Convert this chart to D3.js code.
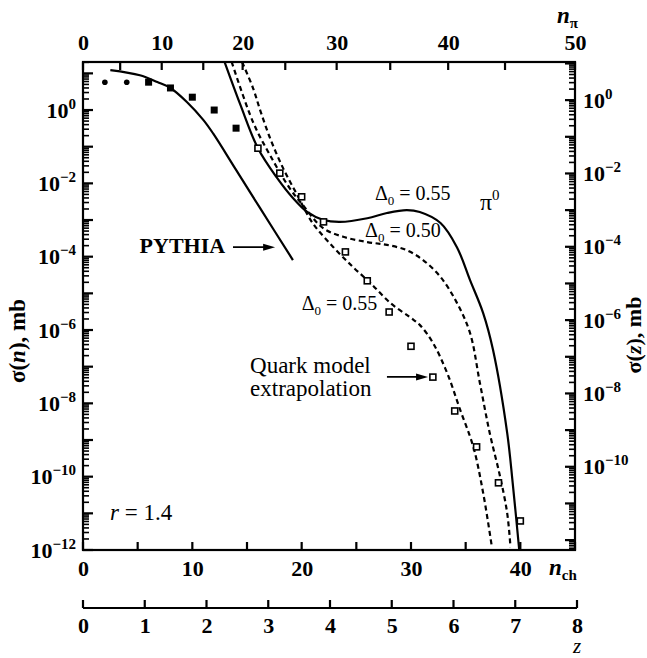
<!DOCTYPE html>
<html>
<head>
<meta charset="utf-8">
<script src="https://cdn.jsdelivr.net/npm/d3@7"></script>
<style>
  body { margin: 0; background: #fff; }
  svg { display: block; }
  text { font-family: "Liberation Serif", "Times New Roman", serif; fill: #000; }
</style>
</head>
<body>
<svg id="chart" width="647" height="658"></svg>
<script>
// ---- axis ticks ----
const nchTicks = [0, 5, 10, 15, 20, 25, 30, 35, 40, 45];
const nchLabels = [0, 10, 20, 30, 40];
const npiTicks = [0, 5, 10, 15, 20, 25, 30, 35, 40, 45, 50];
// where each n_pi tick sits on the n_ch scale (top axis is not linear)
const npiAtNch = [0, 3.4, 7.2, 11.0, 14.6, 18.5, 23.2, 28.1, 33.4, 38.6, 45];
const npiLabels = [0, 10, 20, 30, 40, 50];
const zTicks = [0, 1, 2, 3, 4, 5, 6, 7, 8];
const leftExp = [0, -2, -4, -6, -8, -10, -12];
const rightExp = [0, -2, -4, -6, -8, -10];

// ---- data points ----
const circleN = [2, 4];
const circleSigma = [5.75, 5.75];
const filledN = [6, 8, 10, 12, 14];
const filledSigma = [5.75, 4.0, 2.24, 1.0, 0.32];
const openN = [16, 18, 20, 22, 24, 26, 28, 30, 32, 34, 36, 38, 40];
const openSigma = [0.091, 0.019, 4.3e-3, 8.9e-4, 1.35e-4, 2.2e-5, 3.1e-6, 3.6e-7, 5.2e-8, 6.2e-9, 6.5e-10, 6.8e-11, 6.2e-12];

// ---- curves ----
const pythiaN = [2.5, 5.2, 6.8, 8.0, 9.5, 11.0, 11.9, 13.9, 16.2, 19.2];
const pythiaSigma = [12.3, 8.9, 5.8, 4.0, 1.66, 0.54, 0.23, 0.026, 2.1e-3, 8.1e-5];

const pi55N = [12.9, 14.4, 16.0, 17.75, 19.2, 20.5, 22.0, 23.5, 26.0, 27.8, 29.6, 30.8, 32.7, 34.2, 35.4, 36.6, 37.5, 38.8, 39.3, 39.9];
const pi55Sigma = [22.4, 1.38, 0.091, 0.0141, 3.98e-3, 1.66e-3, 1.0e-3, 8.9e-4, 1.12e-3, 1.55e-3, 1.86e-3, 1.66e-3, 8.3e-4, 1.82e-4, 2.3e-5, 2.9e-6, 2.9e-7, 1.55e-9, 6.8e-11, 1e-12];

const d50N = [13.6, 15.55, 17.1, 18.9, 20.1, 21.96, 23.8, 26.0, 27.8, 29.6, 31.1, 32.7, 34.2, 35.4, 36.3, 37.2, 38.15, 38.8, 39.1];
const d50Sigma = [20.4, 0.47, 0.059, 7.4e-3, 2.57e-3, 6.0e-4, 3.5e-4, 2.5e-4, 2.1e-4, 1.51e-4, 8.1e-5, 2.8e-5, 5.5e-6, 8.3e-7, 3.6e-8, 1.55e-9, 1.0e-10, 1.0e-11, 1.2e-12];

const d55N = [14.55, 15.55, 16.2, 17.1, 18.3, 19.6, 21.0, 22.9, 24.7, 26.3, 28.1, 29.9, 30.8, 32.0, 33.3, 34.5, 35.7, 36.6, 37.4];
const d55Sigma = [20.4, 3.98, 1.0, 0.174, 0.026, 4.8e-3, 8.3e-4, 1.82e-4, 5.2e-5, 1.9e-5, 5.5e-6, 2.24e-6, 1.38e-6, 4.5e-7, 6.8e-8, 6.6e-9, 6.5e-10, 3.6e-11, 1.2e-12];

const svg = d3.select("#chart");
const L = 83, R = 575, T = 62, B = 550, ZY = 608;

const x = d3.scaleLinear().domain([0, 45]).range([L, R]);
const y = d3.scaleLog().domain([1e-12, Math.pow(10, 1.31)]).range([B, T]);
const yR = d3.scaleLog().domain([Math.pow(10, -12.27), Math.pow(10, 1.04)]).range([B, T]);
const xPi = d3.scaleLinear().domain(npiTicks).range(npiAtNch.map(x));
const xZ = d3.scaleLinear().domain([0, 8]).range([L, 577]);

function logTicks(scale) {
  const [lo, hi] = scale.domain();
  const major = [], minor = [];
  for (let e = Math.floor(Math.log10(lo)); e <= Math.ceil(Math.log10(hi)); e++) {
    for (let k = 1; k < 10; k++) {
      const v = k * Math.pow(10, e);
      if (v < lo * 0.999 || v > hi) continue;
      (k === 1 ? major : minor).push(v);
    }
  }
  return { major, minor };
}

function styleLabels(g) {
  g.select(".domain").remove();
  g.selectAll("line").remove();
  g.selectAll("text").attr("font-size", 22).attr("font-weight", "bold")
    .attr("fill", "#000").attr("font-family", "Liberation Serif");
}

// tick labels
svg.append("g").attr("transform", `translate(0,${T})`)
  .call(d3.axisTop(xPi).tickValues(npiLabels).tickSize(0).tickPadding(12))
  .call(styleLabels);
svg.append("g").attr("transform", `translate(0,${B})`)
  .call(d3.axisBottom(x).tickValues(nchLabels).tickSize(0).tickPadding(10))
  .call(styleLabels);
svg.append("g").attr("transform", `translate(0,${ZY})`)
  .call(d3.axisBottom(xZ).tickValues(zTicks).tickSize(0).tickPadding(9))
  .call(styleLabels);

// power-of-ten labels
function powerLabel(sel, anchor) {
  sel.attr("text-anchor", anchor).attr("font-size", 22).attr("font-weight", "bold")
    .attr("dy", "0.35em")
    .each(function (d) {
      const t = d3.select(this);
      t.append("tspan").text("10");
      t.append("tspan").attr("font-size", 15).attr("dy", -9)
        .text(d === 0 ? "0" : "\u2212" + Math.abs(d));
    });
}
svg.append("g").selectAll("text").data(leftExp).join("text")
  .attr("x", 76).attr("y", d => y(Math.pow(10, d)))
  .call(powerLabel, "end");
svg.append("g").selectAll("text").data(rightExp).join("text")
  .attr("x", 583).attr("y", d => yR(Math.pow(10, d)))
  .call(powerLabel, "start");

// axis titles
svg.append("text").attr("transform", "translate(25,341) rotate(-90)")
  .attr("text-anchor", "middle").attr("font-size", 23).attr("font-weight", "bold")
  .call(t => {
    t.append("tspan").text("\u03c3(");
    t.append("tspan").attr("font-style", "italic").text("n");
    t.append("tspan").text("), mb");
  });
svg.append("text").attr("transform", "translate(641,335) rotate(-90)")
  .attr("text-anchor", "middle").attr("font-size", 22).attr("font-weight", "bold")
  .call(t => {
    t.append("tspan").text("\u03c3(");
    t.append("tspan").attr("font-style", "italic").text("z");
    t.append("tspan").text("), mb");
  });
svg.append("text").attr("x", 549).attr("y", 567).attr("dy", "0.35em").attr("font-size", 23)
  .attr("font-weight", "bold")
  .call(t => {
    t.append("tspan").attr("font-style", "italic").text("n");
    t.append("tspan").attr("font-size", 15).attr("dy", 5).text("ch");
  });
svg.append("text").attr("x", 557).attr("y", 15).attr("dy", "0.35em").attr("font-size", 23)
  .attr("font-weight", "bold")
  .call(t => {
    t.append("tspan").attr("font-style", "italic").text("n");
    t.append("tspan").attr("font-size", 15).attr("dy", 5).text("\u03c0");
  });
svg.append("text").attr("x", 577).attr("y", 653)
  .attr("text-anchor", "middle").attr("font-size", 21).attr("font-style", "italic").text("z");

// curves
const clip = svg.append("clipPath").attr("id", "plotclip");
clip.append("rect").attr("x", L).attr("y", T).attr("width", R - L).attr("height", B - T);
const plot = svg.append("g").attr("clip-path", "url(#plotclip)");

const line = d3.line().x(d => x(d[0])).y(d => y(d[1])).curve(d3.curveCatmullRom.alpha(0.5));
const zip = (a, b) => a.map((v, i) => [v, b[i]]);

const curves = [
  { n: pythiaN, s: pythiaSigma, dash: null },
  { n: pi55N, s: pi55Sigma, dash: null },
  { n: d50N, s: d50Sigma, dash: "5,3.5" },
  { n: d55N, s: d55Sigma, dash: "5,3.5" }
];
plot.selectAll("path.curve").data(curves).join("path")
  .attr("class", "curve")
  .attr("d", d => line(zip(d.n, d.s)))
  .attr("fill", "none").attr("stroke", "#000").attr("stroke-width", 2.2)
  .attr("stroke-dasharray", d => d.dash);

// points
plot.selectAll("circle.pt").data(zip(circleN, circleSigma)).join("circle")
  .attr("class", "pt").attr("cx", d => x(d[0])).attr("cy", d => y(d[1]))
  .attr("r", 2.8).attr("fill", "#000");
plot.selectAll("rect.filled").data(zip(filledN, filledSigma)).join("rect")
  .attr("class", "filled").attr("x", d => x(d[0]) - 3.5).attr("y", d => y(d[1]) - 3.5)
  .attr("width", 7).attr("height", 7).attr("fill", "#000");
plot.selectAll("rect.open").data(zip(openN, openSigma)).join("rect")
  .attr("class", "open").attr("x", d => x(d[0]) - 3).attr("y", d => y(d[1]) - 3)
  .attr("width", 6).attr("height", 6).attr("fill", "#fff")
  .attr("stroke", "#000").attr("stroke-width", 1.6);

// annotations (placed in data units)
const P = (n, lg) => [x(n), y(Math.pow(10, lg))];
function note(n, lg, anchor, size, build) {
  const [px, py] = P(n, lg);
  const t = svg.append("text").attr("x", px).attr("y", py).attr("dy", "0.35em")
    .attr("text-anchor", anchor).attr("font-size", size);
  build(t);
  return t;
}
function delta(t, val) {
  t.append("tspan").text("\u0394");
  t.append("tspan").attr("font-size", 13).attr("dy", 5).text("0");
  t.append("tspan").attr("dy", -5).text(" = " + val);
}
note(13.0, -3.68, "end", 22, t => t.attr("font-weight", "bold").text("PYTHIA"));
note(15.28, -6.95, "start", 23, t => t.text("Quark model"));
note(15.28, -7.58, "start", 23, t => t.text("extrapolation"));
note(26.7, -2.26, "start", 20, t => delta(t, "0.55"));
note(25.8, -3.27, "start", 20, t => delta(t, "0.50"));
note(20.0, -5.26, "start", 20, t => delta(t, "0.55"));
note(36.3, -2.51, "start", 24, t => {
  t.append("tspan").text("\u03c0");
  t.append("tspan").attr("font-size", 15).attr("dy", -10).text("0");
});
note(2.47, -10.96, "start", 23, t => {
  t.append("tspan").attr("font-style", "italic").text("r");
  t.append("tspan").text(" = 1.4");
});

// arrows
function arrow(n0, n1, lg) {
  const [x0, yy] = P(n0, lg);
  const [x1] = P(n1, lg);
  svg.append("line").attr("x1", x0).attr("x2", x1 - 8).attr("y1", yy).attr("y2", yy)
    .attr("stroke", "#000").attr("stroke-width", 1.8);
  svg.append("path").attr("d", `M${x1},${yy} L${x1 - 12},${yy - 3.5} L${x1 - 12},${yy + 3.5} Z`)
    .attr("fill", "#000");
}
arrow(13.72, 17.57, -3.74);
arrow(27.8, 31.56, -7.28);

// z axis line
svg.append("line").attr("x1", xZ(0)).attr("x2", xZ(8)).attr("y1", ZY).attr("y2", ZY)
  .attr("stroke", "#000").attr("stroke-width", 2.2);

// frame
svg.append("rect").attr("x", L).attr("y", T).attr("width", R - L).attr("height", B - T)
  .attr("fill", "none").attr("stroke", "#000").attr("stroke-width", 2.2);

// tick marks on top of everything, all pointing into the plot
function vTicks(values, scale, x0, len, w) {
  svg.append("g").selectAll("rect").data(values).join("rect")
    .attr("x", len > 0 ? x0 : x0 + len).attr("width", Math.abs(len))
    .attr("y", d => scale(d) - w / 2).attr("height", w)
    .attr("fill", "#000");
}
function hTicks(values, scale, y0, len, w) {
  svg.append("g").selectAll("rect").data(values).join("rect")
    .attr("y", len > 0 ? y0 : y0 + len).attr("height", Math.abs(len))
    .attr("x", d => scale(d) - w / 2).attr("width", w)
    .attr("fill", "#000");
}
const lt = logTicks(y), rt = logTicks(yR);
vTicks(lt.minor, y, L, 6, 1.6);
vTicks(lt.major, y, L, 10, 2.2);
vTicks(rt.minor, yR, R, -6, 1.6);
vTicks(rt.major, yR, R, -10, 2.2);
hTicks(npiTicks, xPi, T, 8, 2.2);
hTicks(nchTicks, x, B, -8, 2.2);
hTicks(zTicks, xZ, ZY, -8, 2.2);
</script>
</body>
</html>
